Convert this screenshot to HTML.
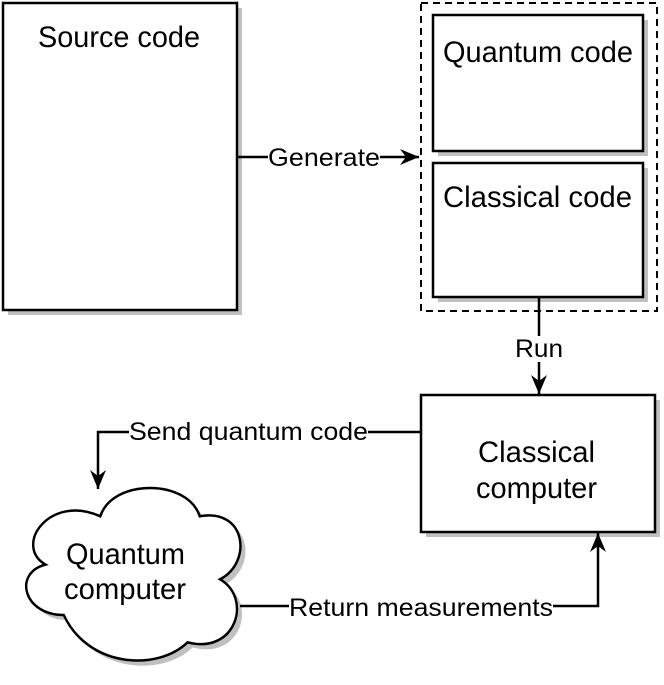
<!DOCTYPE html>
<html><head><meta charset="utf-8"><style>
html,body{margin:0;padding:0;background:#fff;}
svg{display:block;font-family:"Liberation Sans",sans-serif;}
</style></head><body>
<svg width="664" height="685" viewBox="0 0 664 685" xmlns="http://www.w3.org/2000/svg">
<defs>
<marker id="b" markerWidth="20" markerHeight="20" refX="19" refY="10" orient="auto" markerUnits="userSpaceOnUse">
<path d="M0,2 L19,10 L0,18 L6,10 Z" fill="#000"/>
</marker>
</defs>
<g fill="#c0c0c0">
<rect x="8" y="8" width="234" height="307"/>
<rect x="438" y="20" width="210" height="136"/>
<rect x="438" y="168" width="210" height="134"/>
<rect x="426" y="400" width="234" height="137"/>
</g>
<rect x="3" y="3" width="234" height="307" fill="#fff" stroke="#000" stroke-width="2.5"/>
<text x="38" y="47" font-size="30" textLength="162" lengthAdjust="spacingAndGlyphs">Source code</text>
<rect x="421" y="3" width="236" height="308" fill="none" stroke="#000" stroke-width="2" stroke-dasharray="7,5"/>
<rect x="433" y="15" width="210" height="136" fill="#fff" stroke="#000" stroke-width="2.5"/>
<text x="443" y="62" font-size="30" textLength="190" lengthAdjust="spacingAndGlyphs">Quantum code</text>
<rect x="433" y="163" width="210" height="134" fill="#fff" stroke="#000" stroke-width="2.5"/>
<text x="443" y="207" font-size="30" textLength="189" lengthAdjust="spacingAndGlyphs">Classical code</text>
<rect x="421" y="395" width="234" height="137" fill="#fff" stroke="#000" stroke-width="2.5"/>
<text x="478" y="462" font-size="30" textLength="117" lengthAdjust="spacingAndGlyphs">Classical</text>
<text x="476" y="498" font-size="30" textLength="121" lengthAdjust="spacingAndGlyphs">computer</text>
<g transform="translate(13,489) scale(2.03,2.1)">
<path transform="translate(2.5,2.5)" fill="#c0c0c0" d="M25,60 C5,60 0,40 16,36 C0,27 18,2 43,13 C49,-5 86,-5 92,13 C115,9 118,35 102,43 C118,52 110,79 86,73 C71,87 37,85 25,60 Z"/>
<path fill="#fff" stroke="#000" stroke-width="1.2" d="M25,60 C5,60 0,40 16,36 C0,27 18,2 43,13 C49,-5 86,-5 92,13 C115,9 118,35 102,43 C118,52 110,79 86,73 C71,87 37,85 25,60 Z"/>
</g>
<text x="66" y="564" font-size="30" textLength="119" lengthAdjust="spacingAndGlyphs">Quantum</text>
<text x="64" y="599" font-size="30" textLength="122" lengthAdjust="spacingAndGlyphs">computer</text>
<g stroke="#000" stroke-width="2.5" fill="none">
<path d="M237,157 L419,157" marker-end="url(#b)"/>
<path d="M539,297 L539,394" marker-end="url(#b)"/>
<path d="M421,432 L98,432 L98,489" marker-end="url(#b)"/>
<path d="M240,606 L598,606 L598,533" marker-end="url(#b)"/>
</g>
<g font-size="25">
<rect x="268" y="145" width="112" height="26" fill="#fff"/>
<text x="268" y="166" textLength="112" lengthAdjust="spacingAndGlyphs">Generate</text>
<rect x="514" y="336" width="50" height="26" fill="#fff"/>
<text x="515" y="357" textLength="48" lengthAdjust="spacingAndGlyphs">Run</text>
<rect x="129" y="419" width="239" height="26" fill="#fff"/>
<text x="129" y="440" textLength="239" lengthAdjust="spacingAndGlyphs">Send quantum code</text>
<rect x="289" y="594" width="264" height="26" fill="#fff"/>
<text x="289" y="616" textLength="264" lengthAdjust="spacingAndGlyphs">Return measurements</text>
</g>
</svg>
</body></html>
